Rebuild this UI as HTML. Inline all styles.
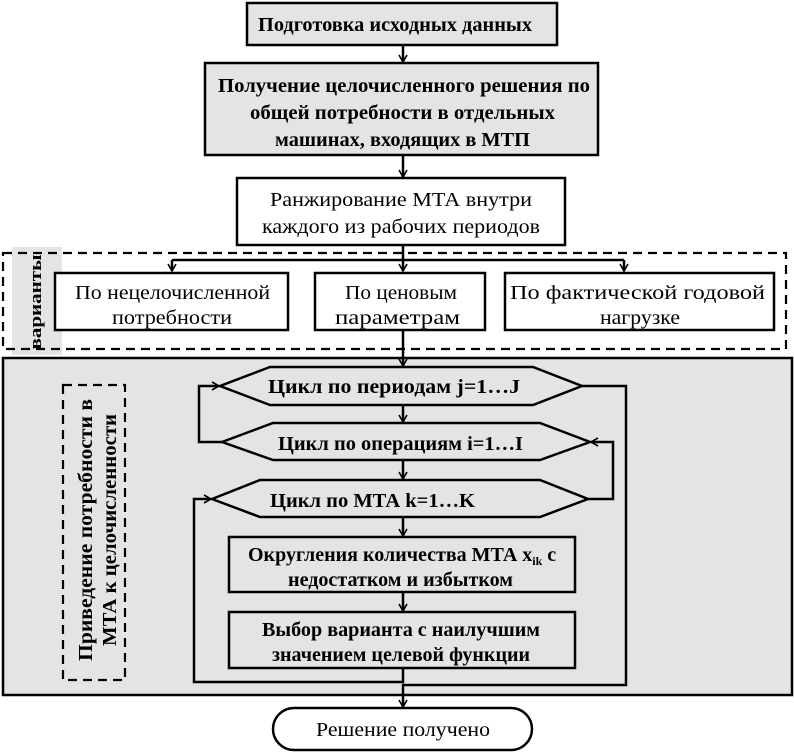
<!DOCTYPE html>
<html><head><meta charset="utf-8"><style>
html,body{margin:0;padding:0;background:#fff;}
svg{display:block;}
text{font-family:"Liberation Serif",serif;font-size:20px;fill:#000;}
.b{font-weight:bold;}
</style></head><body>
<svg width="794" height="754" viewBox="0 0 794 754" xmlns="http://www.w3.org/2000/svg">
<defs><marker id="a" markerWidth="10" markerHeight="10" refX="8" refY="5" orient="auto" markerUnits="userSpaceOnUse"><path d="M1,1 L8,5 L1,9" fill="none" stroke="#000" stroke-width="1.6"/></marker></defs>
<g stroke="#000" stroke-width="2.5" fill="none">
<rect x="3" y="358" width="789" height="337" fill="#e4e4e4"/>
<rect x="12" y="247" width="50" height="108" fill="#e4e4e4" stroke="none"/>
<rect x="3" y="253" width="783" height="96" stroke-dasharray="9,6" stroke-width="2.2"/>
<rect x="247" y="3" width="310" height="42" fill="#e4e4e4"/>
<line x1="403" y1="45" x2="403" y2="62" marker-end="url(#a)"/>
<rect x="205" y="63" width="393" height="92" fill="#e4e4e4"/>
<line x1="403" y1="155" x2="403" y2="177" marker-end="url(#a)"/>
<rect x="237" y="178" width="328" height="67" fill="#fff"/>
<line x1="403" y1="245" x2="403" y2="271" marker-end="url(#a)"/>
<line x1="172" y1="260" x2="624" y2="260"/>
<line x1="172" y1="260" x2="172" y2="271" marker-end="url(#a)"/>
<line x1="624" y1="260" x2="624" y2="271" marker-end="url(#a)"/>
<rect x="55" y="273" width="233" height="57" fill="#fff"/>
<rect x="315" y="273" width="170" height="57" fill="#fff"/>
<rect x="505" y="273" width="269" height="57" fill="#fff"/>
<line x1="403" y1="330" x2="403" y2="366" marker-end="url(#a)"/>
<polygon points="220,386 270,367 533,367 582,386 533,405 270,405"/>
<polygon points="222,442 273,423 540,423 590,442 540,460 273,460"/>
<polygon points="212,499 260,480 540,480 588,499 540,517 260,517"/>
<line x1="403" y1="405" x2="403" y2="422" marker-end="url(#a)"/>
<line x1="403" y1="460" x2="403" y2="479" marker-end="url(#a)"/>
<line x1="403" y1="517" x2="403" y2="536" marker-end="url(#a)"/>
<rect x="229" y="537" width="346" height="55"/>
<line x1="403" y1="592" x2="403" y2="611" marker-end="url(#a)"/>
<rect x="229" y="612" width="346" height="56"/>
<polyline points="222,442 199,442 199,386 219,386" marker-end="url(#a)"/>
<polyline points="588,499 613,499 613,442 591,442" marker-end="url(#a)"/>
<polyline points="403,668 403,682 194,682 194,499 211,499" marker-end="url(#a)"/>
<polyline points="582,386 626,386 626,685 403,685 403,707" marker-end="url(#a)"/>
<rect x="63" y="385" width="62" height="295" stroke-dasharray="9,6" stroke-width="2.2"/>
<rect x="273" y="708" width="259" height="42" rx="21" fill="#fff"/>
</g>
<g lengthAdjust="spacingAndGlyphs">
<text class="b" x="258" y="31" textLength="274" lengthAdjust="spacingAndGlyphs">Подготовка исходных данных</text>
<text class="b" x="218" y="92" textLength="372" lengthAdjust="spacingAndGlyphs">Получение целочисленного решения по</text>
<text class="b" x="250" y="119" textLength="305" lengthAdjust="spacingAndGlyphs">общей потребности в отдельных</text>
<text class="b" x="275" y="146" textLength="255" lengthAdjust="spacingAndGlyphs">машинах, входящих в МТП</text>
<text x="270" y="206" textLength="262" lengthAdjust="spacingAndGlyphs">Ранжирование МТА внутри</text>
<text x="262" y="233" textLength="278" lengthAdjust="spacingAndGlyphs">каждого из рабочих периодов</text>
<text x="75" y="299" textLength="195" lengthAdjust="spacingAndGlyphs">По нецелочисленной</text>
<text x="112" y="324" textLength="120" lengthAdjust="spacingAndGlyphs">потребности</text>
<text x="345" y="299" textLength="112" lengthAdjust="spacingAndGlyphs">По ценовым</text>
<text x="335" y="324" textLength="125" lengthAdjust="spacingAndGlyphs">параметрам</text>
<text x="510" y="299" textLength="255" lengthAdjust="spacingAndGlyphs">По фактической годовой</text>
<text x="600" y="324" textLength="80" lengthAdjust="spacingAndGlyphs">нагрузке</text>
<text class="b" transform="translate(41,302) rotate(-90)" text-anchor="middle" style="font-size:17px" textLength="95" lengthAdjust="spacingAndGlyphs">варианты</text>
<text class="b" x="268" y="393" textLength="252" lengthAdjust="spacingAndGlyphs">Цикл по периодам j=1…J</text>
<text class="b" x="278" y="450" textLength="245" lengthAdjust="spacingAndGlyphs">Цикл по операциям i=1…I</text>
<text class="b" x="270" y="507" textLength="205" lengthAdjust="spacingAndGlyphs">Цикл по МТА k=1…K</text>
<text class="b" x="248" y="561">Округления количества МТА x<tspan style="font-size:12px" dy="4">ik</tspan><tspan dy="-4"> с</tspan></text>
<text class="b" x="288" y="586" textLength="225" lengthAdjust="spacingAndGlyphs">недостатком и избытком</text>
<text class="b" x="262" y="636" textLength="278" lengthAdjust="spacingAndGlyphs">Выбор варианта с наилучшим</text>
<text class="b" x="272" y="661" textLength="258" lengthAdjust="spacingAndGlyphs">значением целевой функции</text>
<text class="b" transform="translate(92,530) rotate(-90)" text-anchor="middle" textLength="262" lengthAdjust="spacingAndGlyphs">Приведение потребности в</text>
<text class="b" transform="translate(116,530) rotate(-90)" text-anchor="middle" textLength="232" lengthAdjust="spacingAndGlyphs">МТА к целочисленности</text>
<text x="316" y="736" textLength="174" lengthAdjust="spacingAndGlyphs">Решение получено</text>
</g>
</svg>
</body></html>
